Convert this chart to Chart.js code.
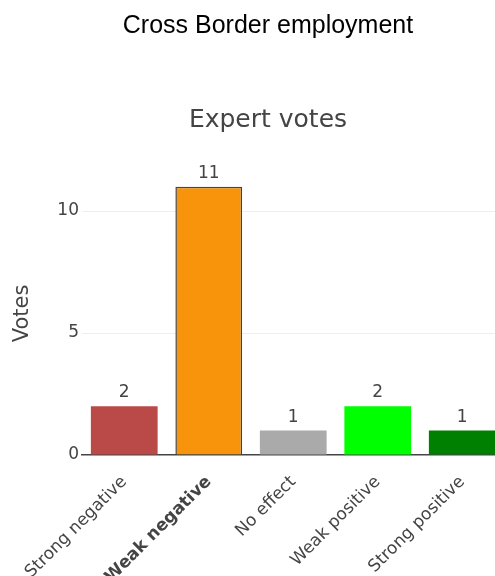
<!DOCTYPE html>
<html>
<head>
<meta charset="utf-8">
<title>Cross Border employment</title>
<script src="https://cdn.jsdelivr.net/npm/chart.js@4.4.0/dist/chart.umd.min.js"></script>
<style>
    html, body { margin: 0; padding: 0; background: #fff; overflow: hidden; }
    #wrap { position: relative; width: 540px; height: 576px; }
    #wrap canvas { position: absolute; left: 0; top: 0; }
    .main-title, .sub-title {
        position: absolute; left: 0; width: 536px; text-align: center; z-index: 2;
    }
    .main-title { top: 12px; font: 25px/25px "Liberation Sans", Arial, sans-serif; color: #000; }
    .sub-title { top: 106px; font: 25px/25px "DejaVu Sans", Verdana, sans-serif; color: #444; }
</style>
</head>
<body>
<div id="wrap">
    <div class="main-title">Cross Border employment</div>
    <div class="sub-title">Expert votes</div>
    <canvas id="votes" width="540" height="576"></canvas>
</div>
<script>
// categories and vote counts
const categories = ["Strong negative", "Weak negative", "No effect", "Weak positive", "Strong positive"];
const votes = [2, 11, 1, 2, 1];
const yTicks = [0, 5, 10];
const yMax = 11.6;
const highlightIndex = 1; // the most voted option is shown bold with outline

const barColors = ["#b94a48", "#f7940b", "#aaaaaa", "#00ff00", "#008000"];

// vote count above each bar
const valueLabels = {
    id: 'valueLabels',
    afterDatasetsDraw(chart) {
        const ctx = chart.ctx;
        const meta = chart.getDatasetMeta(0);
        ctx.save();
        ctx.font = '17px "DejaVu Sans", Verdana, sans-serif';
        ctx.fillStyle = '#444';
        ctx.textAlign = 'center';
        ctx.textBaseline = 'alphabetic';
        meta.data.forEach((bar, i) => {
            ctx.fillText(String(votes[i]), bar.x, bar.y - 9);
        });
        ctx.restore();
    }
};

Chart.defaults.font.family = '"DejaVu Sans", Verdana, sans-serif';
Chart.defaults.color = '#444';

new Chart(document.getElementById('votes'), {
    type: 'bar',
    data: {
        labels: categories,
        datasets: [{
            data: votes,
            backgroundColor: barColors,
            borderColor: categories.map((c, i) => i === highlightIndex ? '#444' : barColors[i]),
            borderWidth: categories.map((c, i) => i === highlightIndex ? 1.5 : 0),
            barPercentage: 0.79,
            categoryPercentage: 1
        }]
    },
    options: {
        responsive: false,
        animation: false,
        devicePixelRatio: 1,
        layout: {
            padding: { top: 172, right: 35.5, bottom: 0, left: 0 }
        },
        plugins: {
            legend: { display: false },
            tooltip: { enabled: false }
        },
        scales: {
            x: {
                grid: { display: false },
                border: { display: true, color: '#444', width: 1.5 },
                ticks: {
                    autoSkip: false,
                    minRotation: 45,
                    maxRotation: 45,
                    padding: 9,
                    color: '#444',
                    font: ctx => ({ size: 17, weight: ctx.index === highlightIndex ? 'bold' : 'normal' })
                },
                afterFit: scale => { scale.height = 121; }
            },
            y: {
                min: 0,
                max: yMax,
                border: { display: false },
                grid: {
                    drawTicks: false,
                    color: ctx => ctx.tick && ctx.tick.value === 0 ? 'rgba(0,0,0,0)' : '#eeeeee',
                    lineWidth: 1
                },
                ticks: { padding: 3, font: { size: 17 }, color: '#444' },
                afterBuildTicks: scale => { scale.ticks = yTicks.map(v => ({ value: v })); },
                afterFit: scale => { scale.width = 82; },
                title: {
                    display: true,
                    text: 'Votes',
                    color: '#444',
                    font: { size: 21 },
                    padding: { top: 10, bottom: 0 }
                }
            }
        }
    },
    plugins: [valueLabels]
});
</script>
</body>
</html>
